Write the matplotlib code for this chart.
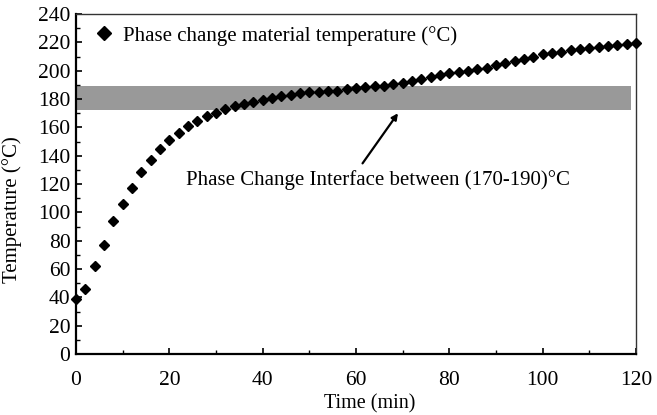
import matplotlib
matplotlib.use("Agg")
import matplotlib.pyplot as plt
from matplotlib.ticker import MultipleLocator

# data
time_min = list(range(0, 121, 2))
temp_c = [39, 45.6, 62, 77, 93.6, 106, 117.5, 128.4, 136.9, 144.7,
          151, 156.2, 161.1, 164.7, 168, 170, 172.9, 175, 176.6, 178.1,
          179.3, 180.7, 182.3, 183.2, 184, 184.7, 184.9, 185.4, 185.6, 186.8,
          187.5, 188.2, 188.9, 189.4, 191, 191.7, 192.7, 194.1, 195.7, 196.9,
          198.1, 198.8, 200, 201, 202.3, 204, 205.2, 206.8, 208.2, 209.8,
          211.5, 212.7, 213.4, 214.6, 215.3, 216.2, 216.9, 217.6, 218.1, 218.8,
          219.3]
band_t = [0, 119]
band_low, band_high = 172, 189
arrow_tail = (61.4, 134.6)
arrow_head = (69.0, 170.0)
note = "Phase Change Interface between (170-190)°C"
series_label = "Phase change material temperature (°C)"

plt.rcParams["font.family"] = ["Liberation Serif", "DejaVu Serif"]

fig = plt.figure(figsize=(6.57, 4.15), dpi=100)
ax = fig.add_axes([0.1157, 0.147, 0.8523, 0.819])

ax.fill_between(band_t, band_low, band_high, color="#999999", lw=0, zorder=1)
ax.plot(time_min, temp_c, ls="none", marker="D", ms=5.2, color="black",
        label=series_label, zorder=3, clip_on=False)

ax.annotate("", xy=arrow_head, xytext=arrow_tail,
            arrowprops=dict(arrowstyle="-|>", color="black", lw=1.6,
                            mutation_scale=9, shrinkA=0, shrinkB=0))
ax.text(23.6, 123, note, fontsize=15, va="center", ha="left")

ax.set_xlim(0, 120)
ax.set_ylim(0, 240)
ax.xaxis.set_major_locator(MultipleLocator(20))
ax.xaxis.set_minor_locator(MultipleLocator(10))
ax.yaxis.set_major_locator(MultipleLocator(20))
ax.yaxis.set_minor_locator(MultipleLocator(10))
ax.tick_params(which="both", direction="in", labelsize=15.5, color="black")
ax.tick_params(axis="x", which="major", length=4, width=1.2, pad=12)
ax.tick_params(axis="y", which="major", length=4, width=1.2, pad=4)
ax.tick_params(which="minor", length=3, width=1.0)

for s in ("left", "bottom"):
    ax.spines[s].set_linewidth(1.6)
for s in ("top", "right"):
    ax.spines[s].set_linewidth(1.0)
    ax.spines[s].set_color("#333333")

ax.set_xlabel("Time (min)", fontsize=14.5)
ax.xaxis.set_label_coords(0.525, -0.118)
ax.set_ylabel("Temperature (°C)", fontsize=15)
ax.yaxis.set_label_coords(-0.097, 0.425)

ax.legend(loc="upper left", bbox_to_anchor=(0.02, 0.99), frameon=False,
          fontsize=15, handlelength=0.8, handletextpad=0.5, markerscale=1.3,
          borderaxespad=0)

fig.savefig("out.png", dpi=100)
